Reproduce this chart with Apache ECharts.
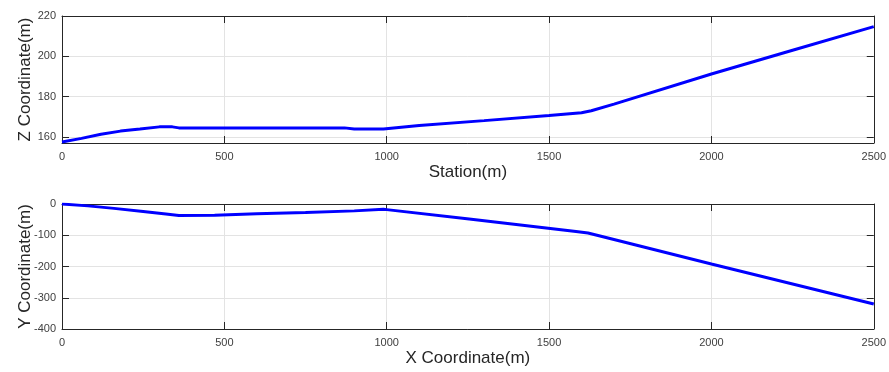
<!DOCTYPE html>
<html>
<head>
<meta charset="utf-8">
<script src="https://cdn.jsdelivr.net/npm/echarts@6/dist/echarts.min.js"></script>
<style>html,body{margin:0;padding:0;background:#fff}#c{width:889px;height:372px}</style>
</head>
<body>
<div id="c"></div>
<script>
// Top panel: elevation profile
var station = [0, 60, 120, 180, 240, 300, 340, 360, 600, 870, 900, 990, 1100, 1300, 1500, 1600, 1630, 1700, 2000, 2250, 2500];
var zCoord  = [157.5, 159.3, 161.3, 162.9, 163.9, 165.0, 165.0, 164.5, 164.5, 164.5, 164.0, 164.0, 165.7, 168.1, 170.6, 172.0, 173.0, 176.3, 191.2, 203.0, 214.7];
// Bottom panel: plan view
var xCoord  = [0, 80, 160, 250, 320, 360, 470, 600, 750, 900, 990, 1000, 1254, 1583, 1620, 1660, 2000, 2500];
var yCoord  = [0, -6, -14, -24, -32, -37, -36, -31, -27, -22, -17, -18, -48, -88, -93, -103, -192, -320];

var zTicks = [160, 180, 200, 220];
var xTicks = [0, 500, 1000, 1500, 2000, 2500];

function pairs(a, b) { return a.map(function (v, i) { return [v, b[i]]; }); }
function plain(v) { return String(v); }

var font = 'Liberation Sans, Arial, Helvetica, sans-serif';
var axisCol = '#262626';
var gridCol = '#e3e3e3';
var lab = { color: '#404040', fontSize: 11, fontFamily: font, margin: 8, formatter: plain };
var nameStyle = { color: '#262626', fontSize: 17, fontFamily: font };

function mainX(idx, name) {
  return {
    type: 'value', gridIndex: idx, min: 0, max: 2500, interval: 500, position: 'bottom',
    name: name, nameLocation: 'middle', nameGap: 21, nameMoveOverlap: false, nameTextStyle: nameStyle,
    axisLine: { show: true, onZero: false, lineStyle: { color: axisCol, width: 1 } },
    axisTick: { show: true, inside: true, length: 7, lineStyle: { color: axisCol } },
    axisLabel: lab,
    splitLine: { show: true, lineStyle: { color: gridCol, width: 1 } }
  };
}
function boxX(idx) {
  return {
    type: 'value', gridIndex: idx, min: 0, max: 2500, interval: 500, position: 'top',
    axisLine: { show: true, onZero: false, lineStyle: { color: axisCol, width: 1 } },
    axisTick: { show: true, inside: true, length: 7, lineStyle: { color: axisCol } },
    axisLabel: { show: false }, splitLine: { show: false }
  };
}

var chart = echarts.init(document.getElementById('c'), null, { renderer: 'canvas' });
chart.setOption({
  animation: false,
  backgroundColor: '#ffffff',
  grid: [
    { left: 62, right: 14, top: 16, height: 127 },
    { left: 62, right: 14, top: 204, height: 125 }
  ],
  xAxis: [
    mainX(0, 'Station(m)'),
    mainX(1, 'X Coordinate(m)'),
    boxX(0),
    boxX(1)
  ],
  yAxis: [
    {
      type: 'value', gridIndex: 0, min: 157, max: 220, position: 'left',
      name: 'Z Coordinate(m)', nameLocation: 'middle', nameGap: 28, nameMoveOverlap: false, nameTextStyle: nameStyle,
      axisLine: { show: true, onZero: false, lineStyle: { color: axisCol } },
      axisTick: { show: true, inside: true, length: 7, customValues: zTicks, lineStyle: { color: axisCol } },
      axisLabel: Object.assign({}, lab, { margin: 6, customValues: zTicks }),
      splitLine: { show: true, lineStyle: { color: gridCol } }
    },
    {
      type: 'value', gridIndex: 1, min: -400, max: 0, interval: 100, position: 'left',
      name: 'Y Coordinate(m)', nameLocation: 'middle', nameGap: 28, nameMoveOverlap: false, nameTextStyle: nameStyle,
      axisLine: { show: true, onZero: false, lineStyle: { color: axisCol } },
      axisTick: { show: true, inside: true, length: 7, lineStyle: { color: axisCol } },
      axisLabel: Object.assign({}, lab, { margin: 6 }),
      splitLine: { show: true, lineStyle: { color: gridCol } }
    },
    {
      type: 'value', gridIndex: 0, min: 157, max: 220, position: 'right',
      axisLine: { show: true, onZero: false, lineStyle: { color: axisCol } },
      axisTick: { show: true, inside: true, length: 7, customValues: zTicks, lineStyle: { color: axisCol } },
      axisLabel: { show: false }, splitLine: { show: false }
    },
    {
      type: 'value', gridIndex: 1, min: -400, max: 0, interval: 100, position: 'right',
      axisLine: { show: true, onZero: false, lineStyle: { color: axisCol } },
      axisTick: { show: true, inside: true, length: 7, lineStyle: { color: axisCol } },
      axisLabel: { show: false }, splitLine: { show: false }
    }
  ],
  series: [
    {
      type: 'line', xAxisIndex: 0, yAxisIndex: 0, data: pairs(station, zCoord),
      showSymbol: false, symbol: 'none', lineStyle: { color: '#0000ff', width: 3 }, z: 5
    },
    {
      type: 'line', xAxisIndex: 1, yAxisIndex: 1, data: pairs(xCoord, yCoord),
      showSymbol: false, symbol: 'none', lineStyle: { color: '#0000ff', width: 3 }, z: 5
    }
  ]
});
</script>
</body>
</html>
